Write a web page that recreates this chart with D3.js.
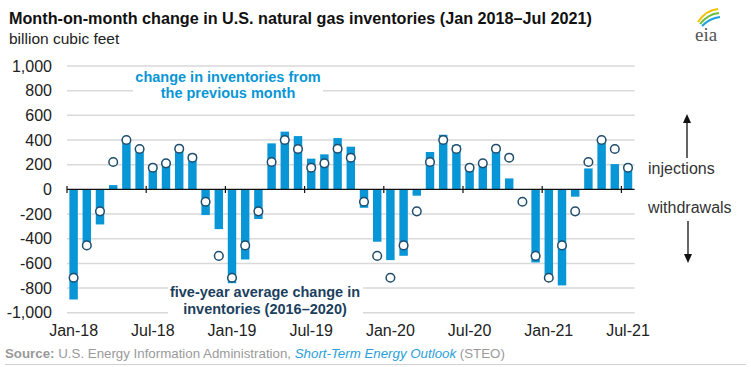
<!DOCTYPE html>
<html><head><meta charset="utf-8">
<script src="https://cdn.jsdelivr.net/npm/d3@7"></script>
<style>body{margin:0;background:#fff;} text{font-family:"Liberation Sans",Arial,sans-serif;}</style>
</head><body><svg id="c" width="751" height="367"></svg>
<script>
const months = [
 "Jan-18","Feb-18","Mar-18","Apr-18","May-18","Jun-18","Jul-18","Aug-18","Sep-18","Oct-18","Nov-18","Dec-18",
 "Jan-19","Feb-19","Mar-19","Apr-19","May-19","Jun-19","Jul-19","Aug-19","Sep-19","Oct-19","Nov-19","Dec-19",
 "Jan-20","Feb-20","Mar-20","Apr-20","May-20","Jun-20","Jul-20","Aug-20","Sep-20","Oct-20","Nov-20","Dec-20",
 "Jan-21","Feb-21","Mar-21","Apr-21","May-21","Jun-21","Jul-21"];
const inventoryChange = [
 -892, -470, -284, 35, 398, 335, 200, 235, 345, 285, -208, -322,
 -760, -568, -240, 373, 468, 432, 249, 284, 416, 346, -149, -424,
 -573, -538, -51, 303, 443, 360, 165, 220, 320, 89, 0, -592,
 -735, -778, -59, 170, 395, 205, 195];
const fiveYearAverage = [
 -716, -454, -178, 222, 400, 327, 176, 211, 330, 257, -100, -539,
 -716, -454, -178, 222, 400, 327, 176, 211, 330, 257, -100, -539,
 -716, -454, -178, 222, 400, 327, 176, 211, 330, 257, -100, -539,
 -716, -454, -178, 222, 400, 327, 176];
const yTicks = [1000, 800, 600, 400, 200, 0, -200, -400, -600, -800, -1000];
const xTickLabels = ["Jan-18","Jul-18","Jan-19","Jul-19","Jan-20","Jul-20","Jan-21","Jul-21"];

const svg = d3.select("#c");
const left = 67, step = 13.2;
const x = d3.scaleBand().domain(months).range([left, left + months.length * step])
  .paddingInner(0.36).paddingOuter(0.18);
const y = d3.scaleLinear().domain([-1000, 1000]).range([312.8, 66]);
const x0 = x.range()[0], x1 = x.range()[1];

// title
svg.append("text").attr("x", 9).attr("y", 24).attr("font-size", 16.2).attr("font-weight", "bold")
  .attr("fill", "#111").text("Month-on-month change in U.S. natural gas inventories (Jan 2018–Jul 2021)");
svg.append("text").attr("x", 9).attr("y", 44).attr("font-size", 15.5).attr("fill", "#222")
  .text("billion cubic feet");

// gridlines
svg.append("g").selectAll("line").data(yTicks.filter(d => d !== 0)).join("line")
  .attr("x1", x0).attr("x2", x1).attr("y1", d => y(d)).attr("y2", d => y(d))
  .attr("stroke", "#d9d9d9").attr("stroke-width", 1.5);

// y labels
const fmt = d => d3.format(",")(d).replace("−", "-");
svg.append("g").selectAll("text").data(yTicks).join("text")
  .attr("x", 52).attr("y", d => y(d)).attr("dy", "0.35em").attr("text-anchor", "end")
  .attr("font-size", 16).attr("fill", "#222").text(fmt);

// annotation boxes
svg.append("rect").attr("x", 133).attr("y", 70).attr("width", 190).attr("height", 30).attr("fill", "#fff");
svg.append("rect").attr("x", 168).attr("y", 283).attr("width", 195).attr("height", 34).attr("fill", "#fff");

// bars
svg.append("g").selectAll("rect").data(months).join("rect")
  .attr("x", d => x(d)).attr("width", x.bandwidth())
  .attr("y", (d, i) => y(Math.max(0, inventoryChange[i])))
  .attr("height", (d, i) => Math.abs(y(inventoryChange[i]) - y(0)))
  .attr("fill", "#0996d6");

// zero axis
svg.append("line").attr("x1", x0).attr("x2", x1).attr("y1", y(0)).attr("y2", y(0))
  .attr("stroke", "#111").attr("stroke-width", 1.2);
const off = x.step() * x.paddingInner() / 2;
svg.append("g").selectAll("line").data(xTickLabels).join("line")
  .attr("x1", d => x(d) - off).attr("x2", d => x(d) - off)
  .attr("y1", y(0) - 3.5).attr("y2", y(0) + 3.5).attr("stroke", "#111").attr("stroke-width", 1.2);
svg.append("g").selectAll("text").data(xTickLabels).join("text")
  .attr("x", d => x(d) + x.bandwidth() / 2).attr("y", 336).attr("text-anchor", "middle")
  .attr("font-size", 16).attr("fill", "#222").text(d => d);

// circles
svg.append("g").selectAll("circle").data(months).join("circle")
  .attr("cx", d => x(d) + x.bandwidth() / 2).attr("cy", (d, i) => y(fiveYearAverage[i]))
  .attr("r", 4.3).attr("fill", "#fff").attr("stroke", "#1f4d6b").attr("stroke-width", 1.5);

// annotations
const a1 = svg.append("text").attr("text-anchor", "middle").attr("font-size", 14.5).attr("font-weight", "bold").attr("fill", "#0996d6");
a1.append("tspan").attr("x", 228).attr("y", 82).text("change in inventories from");
a1.append("tspan").attr("x", 228).attr("y", 98).text("the previous month");
const a2 = svg.append("text").attr("text-anchor", "middle").attr("font-size", 14.5).attr("font-weight", "bold").attr("fill", "#1c3f5e");
a2.append("tspan").attr("x", 265).attr("y", 297).text("five-year average change in");
a2.append("tspan").attr("x", 265).attr("y", 314).text("inventories (2016–2020)");

svg.append("text").attr("x", 648).attr("y", 174).attr("font-size", 16).attr("fill", "#333").text("injections");
svg.append("text").attr("x", 648).attr("y", 213).attr("font-size", 16).attr("fill", "#333").text("withdrawals");
svg.append("line").attr("x1", 687).attr("x2", 687).attr("y1", 158).attr("y2", 121).attr("stroke", "#111").attr("stroke-width", 1.3);
svg.append("path").attr("d", "M687,114 L683,123 L691,123 Z").attr("fill", "#111");
svg.append("line").attr("x1", 688).attr("x2", 688).attr("y1", 221).attr("y2", 256).attr("stroke", "#111").attr("stroke-width", 1.3);
svg.append("path").attr("d", "M688,263 L684,254 L692,254 Z").attr("fill", "#111");

// eia logo
const logo = svg.append("g");
logo.append("path").attr("d", "M698,22 Q706,10 718,9").attr("fill", "none").attr("stroke", "#f2c200").attr("stroke-width", 2);
logo.append("path").attr("d", "M700,24 Q708,14 719,13").attr("fill", "none").attr("stroke", "#6bbf3b").attr("stroke-width", 2);
logo.append("path").attr("d", "M702,26 Q710,18 720,17").attr("fill", "none").attr("stroke", "#1ea0dc").attr("stroke-width", 2);
logo.append("text").attr("x", 695).attr("y", 41).attr("font-size", 19).attr("fill", "#555")
  .style("font-family", "'Liberation Serif','DejaVu Serif',serif").text("eia");

// source
const src = svg.append("text").attr("x", 5).attr("y", 358).attr("font-size", 13.3).attr("fill", "#9a9a9a");
src.append("tspan").attr("font-weight", "bold").text("Source:");
src.append("tspan").text(" U.S. Energy Information Administration, ");
src.append("tspan").attr("font-style", "italic").attr("fill", "#2aa0da").text("Short-Term Energy Outlook");
src.append("tspan").text(" (STEO)");
svg.append("line").attr("x1", 5).attr("x2", 746).attr("y1", 364.5).attr("y2", 364.5).attr("stroke", "#d0d0d0").attr("stroke-width", 1);
</script></body></html>
